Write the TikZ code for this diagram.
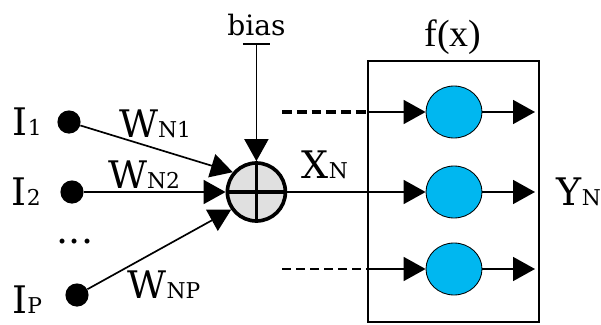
\documentclass[tikz,border=0pt]{standalone}
\usepackage{fontspec}
\setmainfont{DejaVu Serif}
\newfontfamily\fxfont{Liberation Serif}
\usetikzlibrary{arrows.meta,shapes.geometric}

\definecolor{actblue}{RGB}{0,183,240}
\newcommand{\sml}[1]{{\fontsize{15.5}{15.5}\selectfont #1}}

\begin{document}
\begin{tikzpicture}[x=1cm,y=1cm,
  lab/.style={font=\fontsize{27}{27}\selectfont,inner sep=0pt},
  dot/.style={circle,fill=black,minimum size=5.8mm,inner sep=0pt},
  sumnode/.style={circle,draw,line width=2.6pt,fill=black!12,minimum size=14.5mm,inner sep=0pt},
  act/.style={ellipse,draw,line width=0.6pt,fill=actblue,minimum width=14mm,minimum height=13mm,inner sep=0pt},
  a/.style={-{Triangle[length=5.5mm,width=6mm]},line width=1.2pt},
  dsh/.style={line width=2.3pt,dash pattern=on 7pt off 3.5pt},
  dshthin/.style={line width=1.2pt,dash pattern=on 6.5pt off 3.5pt}]

\useasboundingbox (0,0) rectangle (15.025,8.1);

% inputs
\node[dot] (i1) at (1.725,5.05) {};
\node[dot] (i2) at (1.80,3.30) {};
\node[dot] (ip) at (1.925,0.725) {};
\node[lab] (li1) at (0.68,5.05) {I\sml{1}};
\node[lab] (li2) at (0.66,3.30) {I\sml{2}};
\node[lab] (lip) at (0.68,0.6) {I\sml{P}};
\node[lab] (ldots) at (1.875,2.05) {...};

% summing junction
\node[sumnode] (sum) at (6.41,3.30) {};
\draw[line width=2.6pt] (sum.north) -- (sum.south) (sum.west) -- (sum.east);
\draw[a] (i1) -- (sum.140);
\draw[a] (i2) -- (sum);
\draw[a] (ip) -- (sum.215);
\node[lab] (w1) at (3.875,5.01) {W\sml{N1}};
\node[lab] (w2) at (3.6,3.72) {W\sml{N2}};
\node[lab] (wp) at (4.1,0.975) {W\sml{NP}};

% bias
\node[font=\fontsize{20}{20}\selectfont] (bias) at (6.41,7.475) {bias};
\coordinate (bt) at (6.41,7.025);
\draw[{Bar[width=6.75mm]}-{Triangle[length=5.5mm,width=6mm]},line width=1.2pt] (bt) -- (sum);

% activation block
\node[draw,line width=0.9pt,minimum width=4.275cm,minimum height=6.525cm,inner sep=0pt] (box) at (11.3375,3.3125) {};
\node[font=\fxfont\fontsize{27}{27}\selectfont] (fx) at (11.325,7.175) {f(x)};
\node[act] (act1) at (11.35,5.30) {};
\node[act] (act2) at (11.35,3.30) {};
\node[act] (act3) at (11.35,1.375) {};
\node[lab] (xn) at (8.125,3.975) {X\sml{N}};
\node[lab] (yn) at (14.475,3.30) {Y\sml{N}};

\coordinate (s1) at (7.05,5.30);
\coordinate (s3) at (7.05,1.375);
\draw[dsh] (s1) -- (box.west |- act1);
\draw[dshthin] (s3) -- (box.west |- act3);
\draw[a] (box.west |- act1) -- (act1);
\draw[a] (sum) -- (act2);
\draw[a] (box.west |- act3) -- (act3);

\coordinate (o1) at (13.375,5.30);
\coordinate (o2) at (13.375,3.30);
\coordinate (o3) at (13.375,1.375);
\draw[a] (act1) -- (o1);
\draw[a] (act2) -- (o2);
\draw[a] (act3) -- (o3);
\end{tikzpicture}
\end{document}
